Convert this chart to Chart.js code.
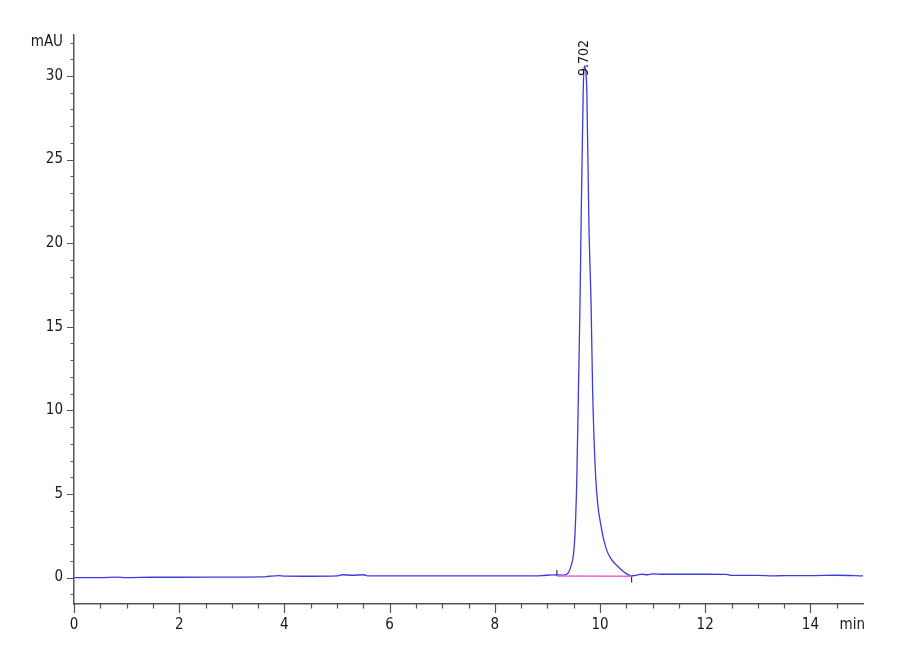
<!DOCTYPE html>
<html>
<head>
<meta charset="utf-8">
<script src="https://cdn.jsdelivr.net/npm/chart.js@4.4.1/dist/chart.umd.min.js"></script>
<style>
  html, body { margin: 0; padding: 0; background: #fff; }
  #wrap { width: 900px; height: 660px; }
</style>
</head>
<body>
<div id="wrap"><canvas id="chart" width="900" height="660"></canvas></div>
<script>
// chromatogram trace (minutes, mAU)
const times = [0, 0.5, 0.8, 1.0, 1.5, 2.0, 3.0, 3.6, 3.7, 3.9, 4.0, 4.5, 5.0, 5.1, 5.3, 5.5, 5.6,
  6.5, 7.5, 8.5, 8.9, 9.1, 9.3, 9.4, 9.45, 9.5, 9.53, 9.56, 9.59, 9.62, 9.64, 9.68, 9.70, 9.73,
  9.75, 9.79, 9.83, 9.86, 9.92, 10.03, 10.12, 10.22, 10.34, 10.45, 10.6, 10.7, 10.8, 10.9, 11.0,
  11.2, 11.5, 12.0, 12.4, 12.5, 13.0, 13.3, 13.5, 14.0, 14.5, 15.0];
const signal = [0.0, 0.0, 0.03, 0.0, 0.02, 0.02, 0.03, 0.04, 0.08, 0.12, 0.09, 0.08, 0.1, 0.17, 0.14, 0.17, 0.1,
  0.1, 0.1, 0.1, 0.12, 0.16, 0.15, 0.3, 0.7, 1.5, 3.0, 6.0, 11.2, 16.4, 21.0, 29.0, 30.6, 30.3,
  29.0, 21.0, 16.4, 11.2, 5.9, 2.9, 1.7, 1.07, 0.66, 0.35, 0.1, 0.15, 0.2, 0.17, 0.22,
  0.2, 0.2, 0.2, 0.19, 0.13, 0.13, 0.1, 0.12, 0.12, 0.14, 0.1];

// integration baseline and its start/end marks
const baseTimes = [9.18, 10.6];
const baseValues = [0.1, 0.08];
const startMark = [0.1, 0.45];
const endMark = [0.08, -0.3];

// peak annotation
const peakTime = 9.702;
const peakValue = 30.6;
const peakLabel = '9.702';

const xMin = 0, xMax = 15;
const yMin = -1.58, yMax = 32.45;
const xLabels = [0, 2, 4, 6, 8, 10, 12, 14];
const yLabels = [0, 5, 10, 15, 20, 25, 30];

const axisColor = '#555555';
const fontFamily = '"Liberation Sans Narrow", "DejaVu Sans Condensed", "Liberation Sans", Arial, sans-serif';

const trace = times.map((t, i) => ({x: t, y: signal[i]}));
const baseline = baseTimes.map((t, i) => ({x: t, y: baseValues[i]}));
const startPts = startMark.map(v => ({x: baseTimes[0], y: v}));
const endPts = endMark.map(v => ({x: baseTimes[1], y: v}));

const near = (v, list) => list.find(l => Math.abs(l - v) < 1e-6);

// tick marks, axis unit labels and the peak label
const extras = {
  id: 'extras',
  afterDraw(c) {
    const ctx = c.ctx;
    const xs = c.scales.x, ys = c.scales.y;
    const area = c.chartArea;
    ctx.save();
    ctx.strokeStyle = axisColor;
    ctx.lineWidth = 1.2;
    ctx.beginPath();
    for (let v = -1; v <= 32; v++) {
      const py = Math.round(ys.getPixelForValue(v)) + 0.5;
      const len = yLabels.includes(v) ? 7 : 3.5;
      ctx.moveTo(area.left - len, py);
      ctx.lineTo(area.left, py);
    }
    for (let v = 0; v <= 29; v++) {
      const t = v / 2;
      const px = Math.round(xs.getPixelForValue(t)) + 0.5;
      const len = xLabels.includes(t) ? 9 : 4.5;
      ctx.moveTo(px, area.bottom);
      ctx.lineTo(px, area.bottom + len);
    }
    ctx.stroke();

    ctx.fillStyle = '#1a1a1a';
    ctx.font = '15px ' + fontFamily;
    ctx.textAlign = 'right';
    ctx.textBaseline = 'middle';
    ctx.fillText('min', area.right + 2, area.bottom + 21);

    const px = xs.getPixelForValue(peakTime);
    const py = ys.getPixelForValue(peakValue);
    ctx.translate(px, py + 10);
    ctx.rotate(-Math.PI / 2);
    ctx.font = '14px ' + fontFamily;
    ctx.textAlign = 'left';
    ctx.fillStyle = '#111';
    ctx.fillText(peakLabel, 0, 0);
    ctx.restore();
  }
};

Chart.defaults.font.family = fontFamily;

new Chart(document.getElementById('chart'), {
  type: 'scatter',
  data: {
    datasets: [
      {
        data: baseline,
        showLine: true,
        borderColor: '#f060d8',
        borderWidth: 1.5,
        pointRadius: 0
      },
      {
        data: trace,
        showLine: true,
        borderColor: '#3c3cdc',
        borderWidth: 1.3,
        pointRadius: 0,
        cubicInterpolationMode: 'monotone'
      },
      {
        data: startPts,
        showLine: true,
        borderColor: '#333',
        borderWidth: 1.2,
        pointRadius: 0
      },
      {
        data: endPts,
        showLine: true,
        borderColor: '#333',
        borderWidth: 1.2,
        pointRadius: 0
      }
    ]
  },
  options: {
    responsive: false,
    animation: false,
    layout: { padding: { top: 35, right: 37, left: 0, bottom: 0 } },
    plugins: { legend: { display: false }, tooltip: { enabled: false } },
    scales: {
      x: {
        type: 'linear',
        min: xMin,
        max: xMax,
        grid: { display: false, drawTicks: false },
        border: { display: true, color: axisColor, width: 1.5 },
        afterFit: s => { s.height = 56; },
        ticks: {
          stepSize: 0.5,
          maxTicksLimit: 100,
          autoSkip: false,
          maxRotation: 0,
          padding: 12,
          color: '#1a1a1a',
          font: { size: 15 },
          callback: v => {
            const l = near(v, xLabels);
            return l === undefined ? '' : String(l);
          }
        }
      },
      y: {
        type: 'linear',
        min: yMin,
        max: yMax,
        grid: { display: false, drawTicks: false },
        border: { display: true, color: axisColor, width: 1.5 },
        afterFit: s => { s.width = 74; },
        ticks: {
          stepSize: 1,
          maxTicksLimit: 100,
          includeBounds: false,
          autoSkip: false,
          padding: 11,
          color: '#1a1a1a',
          font: { size: 15 },
          callback: v => {
            const l = near(v, yLabels);
            if (l !== undefined) return String(l);
            return Math.abs(v - 32) < 1e-6 ? 'mAU' : '';
          }
        }
      }
    }
  },
  plugins: [extras]
});
</script>
</body>
</html>
